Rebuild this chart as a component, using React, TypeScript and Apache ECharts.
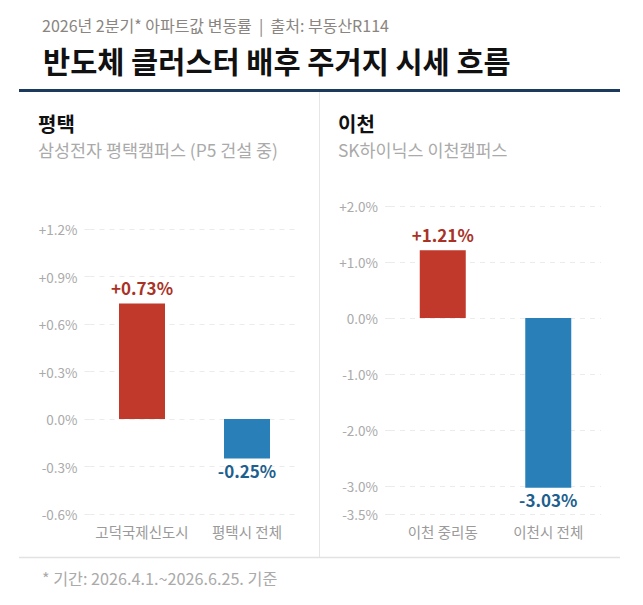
import React, { useEffect, useRef } from "react";
import * as echarts from "echarts";

// 평택 (Samsung P5 campus area)
const pyeongtaekCategories = ["고덕국제신도시", "평택시 전체"];
const pyeongtaekValues = [0.73, -0.25];
const pyeongtaekTicks = [-0.6, -0.3, 0, 0.3, 0.6, 0.9, 1.2];

// 이천 (SK hynix campus area)
const icheonCategories = ["이천 중리동", "이천시 전체"];
const icheonValues = [1.21, -3.03];
const icheonTicks = [-3.5, -3, -2, -1, 0, 1, 2];

const FONT = "'Noto Sans CJK KR', 'Noto Sans', sans-serif";
const UP_COLOR = "#c0392b";
const DOWN_COLOR = "#2980b9";
const UP_TEXT = "#a93226";
const DOWN_TEXT = "#1d5f8e";
const GRID_COLOR = "#ebebeb";

const pct = (v: number, digits: number) => {
  const r = Number(v.toFixed(digits));
  const s = Math.abs(r).toFixed(digits);
  if (r > 0) return "+" + s + "%";
  if (r < 0) return "-" + s + "%";
  return s + "%";
};

const barData = (values: number[]) =>
  values.map((v) => ({
    value: v,
    itemStyle: { color: v >= 0 ? UP_COLOR : DOWN_COLOR },
    label: {
      show: true,
      position: v >= 0 ? "top" : "bottom",
      distance: v >= 0 ? 7 : 3,
      color: v >= 0 ? UP_TEXT : DOWN_TEXT,
      fontSize: 17,
      fontWeight: "bold",
      fontFamily: FONT,
      formatter: () => pct(v, 2),
    },
  }));

const yAxisBase = {
  type: "value" as const,
  axisLine: { show: false },
  axisTick: {
    show: true,
    length: 8,
    lineStyle: { color: GRID_COLOR, type: [5, 5] as any },
  },
  splitLine: {
    show: true,
    lineStyle: { color: GRID_COLOR, type: [5, 5] as any, width: 1 },
  },
};

const yLabel = {
  color: "#aaaaaa",
  fontSize: 13.5,
  fontFamily: FONT,
  margin: 12,
  formatter: (v: number) => pct(v, 1),
};

const xAxisBase = {
  type: "category" as const,
  axisLine: { show: false },
  axisTick: { show: false },
  axisLabel: {
    color: "#9a9a9a",
    fontSize: 14.5,
    fontFamily: FONT,
    margin: 10,
    interval: 0,
  },
};

const textAt = (x: number, y: number, text: string, fill: string, font: string) => ({
  type: "text",
  x,
  y,
  style: { text, fill, font, verticalAlign: "middle", align: "left" },
});

export default function App() {
  const ref = useRef<HTMLDivElement>(null);

  useEffect(() => {
    if (!ref.current) return;
    const chart = echarts.init(ref.current, null, { renderer: "svg" });

    chart.setOption({
      animation: false,
      backgroundColor: "#ffffff",
      textStyle: { fontFamily: FONT },
      grid: [
        { left: 89.5, right: 343.5, top: 229, bottom: 91 },
        { left: 390, right: 42, top: 206, bottom: 91 },
      ],
      xAxis: [
        { ...xAxisBase, gridIndex: 0, data: pyeongtaekCategories },
        { ...xAxisBase, gridIndex: 1, data: icheonCategories },
      ],
      yAxis: [
        {
          ...yAxisBase,
          gridIndex: 0,
          min: pyeongtaekTicks[0],
          max: pyeongtaekTicks[pyeongtaekTicks.length - 1],
          interval: 0.3,
          axisLabel: yLabel,
        },
        {
          ...yAxisBase,
          gridIndex: 1,
          min: icheonTicks[0],
          max: icheonTicks[icheonTicks.length - 1],
          axisTick: { ...yAxisBase.axisTick, customValues: icheonTicks },
          axisLabel: { ...yLabel, customValues: icheonTicks },
        },
      ],
      series: [
        {
          type: "bar",
          xAxisIndex: 0,
          yAxisIndex: 0,
          barWidth: 46,
          data: barData(pyeongtaekValues),
        },
        {
          type: "bar",
          xAxisIndex: 1,
          yAxisIndex: 1,
          barWidth: 46,
          data: barData(icheonValues),
        },
      ],
      graphic: [
        textAt(42, 25, "2026년 2분기* 아파트값 변동률  |  출처: 부동산R114", "#8a8580", `16px ${FONT}`),
        textAt(43, 60, "반도체 클러스터 배후 주거지 시세 흐름", "#111111", `bold 29.5px ${FONT}`),
        {
          type: "rect",
          shape: { x: 19, y: 89, width: 601, height: 3 },
          style: { fill: "#1c3a5e" },
        },
        {
          type: "line",
          shape: { x1: 319.5, y1: 92, x2: 319.5, y2: 557 },
          style: { stroke: "#e6e6e6", lineWidth: 1 },
        },
        {
          type: "line",
          shape: { x1: 19, y1: 557.5, x2: 620, y2: 557.5 },
          style: { stroke: "#e2e2e2", lineWidth: 1.5 },
        },
        textAt(38, 123, "평택", "#111111", `bold 20px ${FONT}`),
        textAt(38, 149, "삼성전자 평택캠퍼스 (P5 건설 중)", "#aaaaaa", `17.4px ${FONT}`),
        textAt(338, 123, "이천", "#111111", `bold 20px ${FONT}`),
        textAt(338, 149, "SK하이닉스 이천캠퍼스", "#aaaaaa", `17.4px ${FONT}`),
        textAt(42, 578, "* 기간: 2026.4.1.~2026.6.25. 기준", "#aaaaaa", `16.2px ${FONT}`),
      ],
    });

    return () => chart.dispose();
  }, []);

  return (
    <div
      ref={ref}
      style={{ position: "fixed", left: 0, top: 0, width: 643, height: 605 }}
    />
  );
}
